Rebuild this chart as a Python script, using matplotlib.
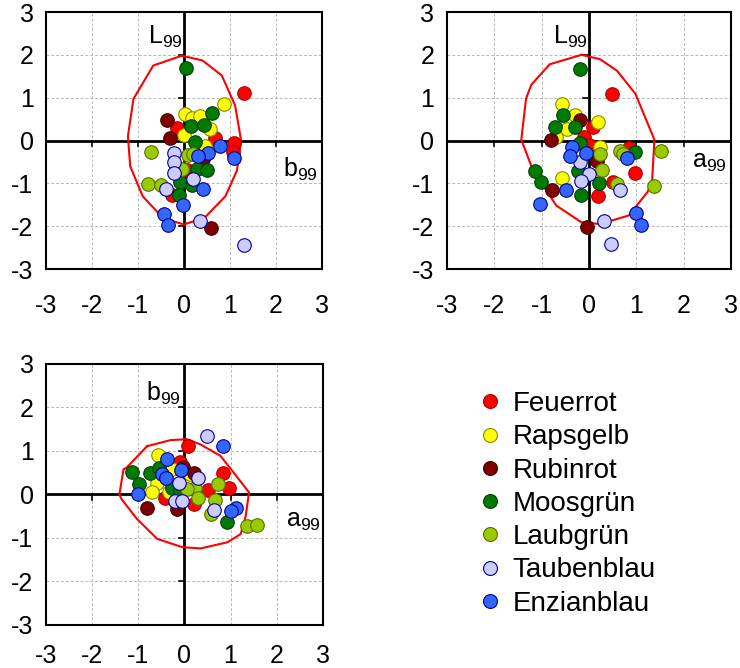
import matplotlib
matplotlib.use("Agg")
import matplotlib.pyplot as plt
from matplotlib.lines import Line2D

plt.rcParams['font.family'] = ['Liberation Sans', 'DejaVu Sans']
plt.rcParams['mathtext.default'] = 'regular'
plt.rcParams['axes.unicode_minus'] = False

names = ['Feuerrot', 'Rapsgelb', 'Rubinrot', 'Moosgrün', 'Laubgrün', 'Taubenblau', 'Enzianblau']
face = ['#ff0000', '#ffff00', '#800000', '#007a00', '#99cc00', '#ccccff', '#3366ff']
edge = ['#b00000', '#8a8a00', '#400000', '#004000', '#5a6e00', '#000099', '#000088']

ticks = [-3, -2, -1, 0, 1, 2, 3]

# panel 1: b99 (x) against L99 (y), one list per colour group
bL_b = [
    [1.30, -0.16, 0.67, 1.09, 1.06, 0.06, -0.27],
    [0.86, 0.02, 0.17, 0.35, 0.57, -0.01, 0.46],
    [-0.38, -0.30, 0.42, 0.58],
    [0.04, 0.60, 0.15, 0.43, 0.24, 0.28, 0.49, -0.09, 0.17, -0.10],
    [-0.72, 0.09, 0.19, -0.05, -0.78, -0.51],
    [-0.22, -0.22, -0.21, 0.20, -0.39, 0.35, 1.30],
    [1.09, 0.78, 0.53, 0.31, 0.42, -0.03, -0.43, -0.34],
]
bL_L = [
    [1.12, 0.29, 0.06, -0.05, -0.26, -0.70, -1.28],
    [0.86, 0.62, 0.52, 0.57, 0.27, 0.12, -0.12],
    [0.47, 0.06, -0.43, -2.05],
    [1.69, 0.65, 0.35, 0.37, -0.04, -0.66, -0.68, -0.97, -1.05, -1.28],
    [-0.26, -0.33, -0.31, -0.66, -1.01, -1.03],
    [-0.29, -0.51, -0.76, -0.91, -1.13, -1.87, -2.43],
    [-0.41, -0.13, -0.29, -0.35, -1.13, -1.50, -1.71, -1.98],
]

# panel 2: a99 (x) against L99 (y)
aL_a = [
    [0.48, 0.08, -0.11, -0.01, 0.84, 0.96, 0.50, 0.18],
    [-0.58, -0.30, 0.18, -0.47, -0.70, 0.23, -0.58],
    [-0.19, -0.81, -0.79, -0.05, 0.16],
    [-0.19, -0.55, -0.72, -0.30, -0.19, 0.96, -0.23, 0.20, -1.01, -1.15, -0.16],
    [0.23, 0.27, 0.59, 0.66, 0.72, 1.37, 1.51],
    [-0.19, -0.01, -0.16, 0.66, 0.32, 0.46],
    [-0.37, -0.40, -0.06, 0.80, -0.49, -1.04, 1.00, 1.10],
]
aL_L = [
    [1.09, 0.31, 0.09, -0.10, -0.18, -0.75, -0.97, -1.29],
    [0.85, 0.59, 0.44, 0.26, 0.09, -0.14, -0.87],
    [0.49, 0.02, -1.15, -2.02, -0.48],
    [1.67, 0.59, 0.32, 0.32, -0.05, -0.27, -0.71, -1.00, -0.98, -0.71, -1.28],
    [-0.31, -0.68, -1.02, -0.25, -0.31, -1.06, -0.25],
    [-0.51, -0.79, -0.95, -1.15, -1.88, -2.42],
    [-0.15, -0.37, -0.29, -0.41, -1.15, -1.49, -1.69, -1.97],
]

# panel 3: a99 (x) against b99 (y)
ab_a = [
    [0.07, -0.10, 0.84, 0.96, 0.51, -0.43, 0.20],
    [-0.58, -0.59, -0.70, -0.34, -0.27, 0.13],
    [-0.03, 0.20, -0.16, -0.81],
    [-1.14, -0.75, -0.56, -0.99, -0.27, 0.93, -0.10],
    [0.72, 0.24, 0.06, 0.29, 0.67, 0.57, 1.35, 1.57],
    [0.48, 0.29, -0.12, -0.20, -0.05, 0.65],
    [0.83, -0.38, -0.07, -0.48, -0.39, -1.01, 1.11, 1.00],
]
ab_b = [
    [1.11, 0.75, 0.50, 0.14, 0.11, -0.09, -0.22],
    [0.90, 0.27, 0.05, 0.05, 0.58, 0.46],
    [0.64, 0.50, -0.34, -0.30],
    [0.52, 0.49, 0.62, 0.24, 0.16, -0.64, 0.10],
    [0.24, 0.16, 0.12, -0.07, -0.12, -0.45, -0.73, -0.70],
    [1.34, 0.39, 0.27, -0.15, -0.15, -0.35],
    [1.11, 0.81, 0.56, 0.46, 0.37, 0.01, -0.30, -0.37],
]

# red 99 % contours
hull1_x = [-0.05, 0.40, 0.82, 1.11, 1.24, 1.15, 0.90, 0.45, 0.00, -0.45, -0.90, -1.17, -1.22, -1.10, -0.67, -0.05]
hull1_y = [1.98, 1.87, 1.52, 0.82, 0.00, -0.70, -1.30, -1.80, -1.96, -1.82, -1.30, -0.60, 0.10, 0.97, 1.75, 1.98]
hull2_x = [-0.16, 0.23, 0.59, 0.98, 1.38, 1.33, 1.23, 0.84, 0.23, -0.16, -0.69, -1.19, -1.43, -1.33, -1.22, -0.83, -0.16]
hull2_y = [2.00, 1.90, 1.63, 1.09, 0.02, -0.98, -1.21, -1.75, -1.95, -1.91, -1.52, -0.68, 0.02, 0.98, 1.30, 1.78, 2.00]
hull3_x = [-0.81, -0.30, 0.06, 0.35, 0.78, 1.07, 1.40, 1.33, 1.22, 0.93, 0.35, -0.05, -0.59, -1.03, -1.36, -1.41, -1.32, -1.25, -0.81]
hull3_y = [1.11, 1.25, 1.27, 1.15, 0.89, 0.50, 0.05, -0.49, -0.91, -1.10, -1.24, -1.21, -1.02, -0.56, -0.11, 0.00, 0.58, 0.62, 1.11]


def panel(fig, rect, xs, ys, hx, hy, ylab, ylab_pos, xlab, xlab_pos, xpad=18):
    ax = fig.add_axes(rect)
    ax.set_xlim(-3, 3)
    ax.set_ylim(-3, 3)
    ax.set_xticks(ticks)
    ax.set_yticks(ticks)
    ax.tick_params(length=0, labelsize=18)
    ax.tick_params(axis='x', pad=xpad)
    ax.tick_params(axis='y', pad=9)
    ax.grid(True, color='#b8b8b8', linestyle=(0, (3, 2)), linewidth=0.7)
    for s in ax.spines.values():
        s.set_linewidth(1.5)
    ax.axhline(0, color='black', lw=2, zorder=2)
    ax.axvline(0, color='black', lw=2, zorder=2)
    for t in ticks[1:-1]:
        if t != 0:
            ax.plot([t, t], [0, -0.12], color='black', lw=1.2, zorder=2)
            ax.plot([0, -0.12], [t, t], color='black', lw=1.2, zorder=2)
    ax.plot(hx, hy, color='#ff0000', lw=1.5, zorder=3)
    for i in range(len(names)):
        ax.scatter(xs[i], ys[i], s=95, c=face[i], edgecolors=edge[i],
                   linewidths=0.8, zorder=4 + i, label=names[i])
    ax.text(ylab_pos[0], ylab_pos[1], ylab, fontsize=18, ha='right', va='center',
            zorder=20)
    ax.text(xlab_pos[0], xlab_pos[1], xlab, fontsize=18, ha='right', va='center',
            zorder=20)
    return ax


fig = plt.figure(figsize=(7.4, 6.68), dpi=100)

panel(fig, (0.0622, 0.5973, 0.373, 0.3847), bL_b, bL_L, hull1_x, hull1_y,
      'L$_{99}$', (-0.02, 2.42), 'b$_{99}$', (2.9, -0.68))
panel(fig, (0.604, 0.5973, 0.384, 0.3847), aL_a, aL_L, hull2_x, hull2_y,
      'L$_{99}$', (-0.02, 2.42), 'a$_{99}$', (2.9, -0.5))
panel(fig, (0.0622, 0.0644, 0.374, 0.3907), ab_a, ab_b, hull3_x, hull3_y,
      'b$_{99}$', (-0.07, 2.32), 'a$_{99}$', (2.95, -0.62), xpad=14)

legend_handles = [Line2D([], [], marker='o', linestyle='', markersize=10,
                         markerfacecolor=face[i], markeredgecolor=edge[i],
                         markeredgewidth=0.8) for i in range(len(names))]
fig.legend(legend_handles, names, loc='upper left', bbox_to_anchor=(0.632, 0.431),
           frameon=False, fontsize=20, labelspacing=0.26, handletextpad=0.42,
           handlelength=0.8, borderaxespad=0)

fig.savefig('out.png', dpi=100)
